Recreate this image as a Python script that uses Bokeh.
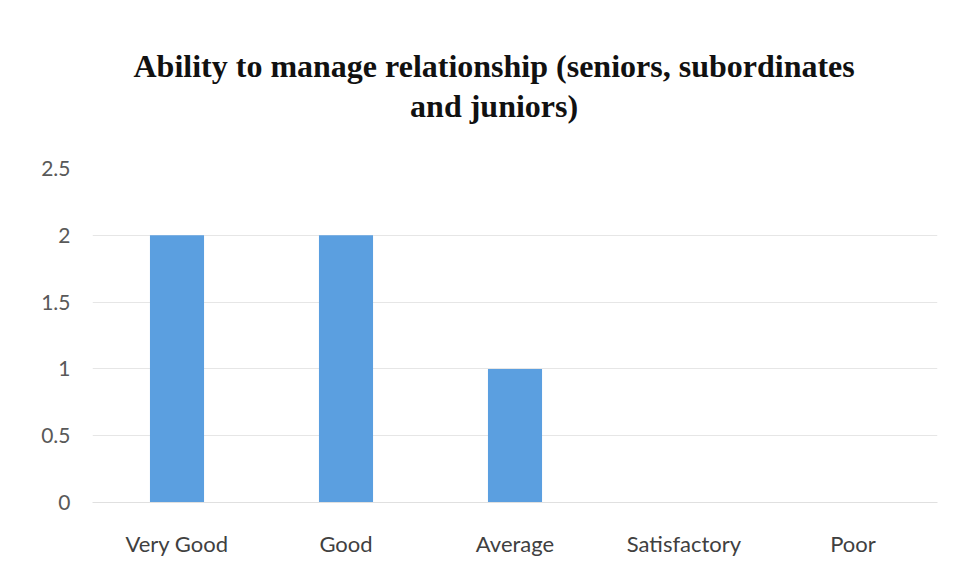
from bokeh.plotting import figure
from bokeh.models import Title, FixedTicker, Range1d
from bokeh.embed import file_html
from bokeh.resources import INLINE

categories = ["Very Good", "Good", "Average", "Satisfactory", "Poor"]
counts = [2, 2, 1, 0, 0]
y_ticks = [0, 0.5, 1, 1.5, 2, 2.5]
title_lines = ["Ability to manage relationship (seniors, subordinates", "and juniors)"]

p = figure(x_range=categories, y_range=Range1d(0, 2.5), width=943, height=571,
           output_backend="svg", toolbar_location=None,
           min_border_left=92, min_border_right=6, min_border_bottom=69, min_border_top=168)
p.title = Title(text="\n".join(title_lines), align="left", text_align="center",
                text_font="Liberation Serif", text_font_size="32px", text_font_style="bold",
                text_color="#111111", text_line_height=1.12, standoff=89, offset=41)

p.vbar(x=categories, top=counts, width=0.32, color="#5b9fe0", line_color=None)

p.outline_line_color = None
p.xgrid.grid_line_color = None
p.ygrid.grid_line_color = "#e6e6e6"
p.ygrid.ticker = FixedTicker(ticks=y_ticks)
p.yaxis.ticker = FixedTicker(ticks=y_ticks)
p.yaxis.axis_line_color = None
p.yaxis.major_tick_line_color = None
p.yaxis.minor_tick_line_color = None
p.yaxis.major_label_standoff = 16
p.yaxis.major_label_text_font = "Lato"
p.yaxis.major_label_text_font_size = "21px"
p.yaxis.major_label_text_color = "#595959"
p.xaxis.axis_line_color = "#e0e0e0"
p.xaxis.major_tick_line_color = None
p.xaxis.major_label_standoff = 21
p.xaxis.major_label_text_font = "Lato"
p.xaxis.major_label_text_font_size = "22px"
p.xaxis.major_label_text_color = "#404040"

open("out.html", "w").write(file_html(p, INLINE))
